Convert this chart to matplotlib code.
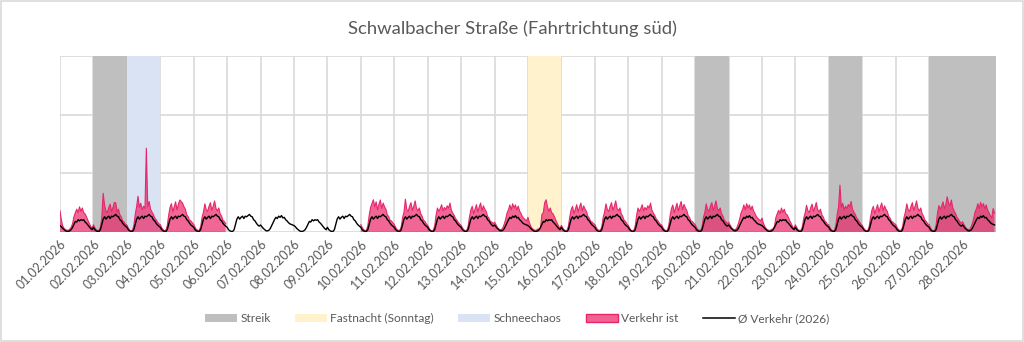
import numpy as np
import matplotlib.pyplot as plt
from matplotlib.patches import Patch, Rectangle
from matplotlib.lines import Line2D

plt.rcParams['font.family'] = ['Lato', 'DejaVu Sans']

# Tage im Februar 2026 (01.02. ist ein Sonntag)
tage = [f'{d:02d}.02.2026' for d in range(1, 29)]
tagtyp = ['So', 'Mo', 'Di', 'Mi', 'Do', 'Fr', 'Sa'] * 4

# Ereignis-Zeiträume (Tag-Index, Anzahl Tage)
streik = [(1, 1), (19, 1), (23, 1), (26, 2)]
fastnacht = [(14, 1)]
schneechaos = [(2, 1)]

# Ø Verkehr 2026, Stundenprofile je Tagtyp
avg_werktag = [0.08, 0.04, 0.02, 0.01, 0.01, 0.04, 0.13, 0.22, 0.26, 0.22, 0.25, 0.27,
               0.23, 0.27, 0.26, 0.28, 0.30, 0.27, 0.26, 0.21, 0.19, 0.15, 0.12, 0.10]
avg_samstag = [0.12, 0.09, 0.06, 0.04, 0.02, 0.02, 0.03, 0.06, 0.11, 0.16, 0.21, 0.25,
               0.23, 0.27, 0.25, 0.28, 0.24, 0.25, 0.21, 0.19, 0.16, 0.14, 0.13, 0.12]
avg_sonntag = [0.11, 0.09, 0.06, 0.04, 0.02, 0.01, 0.01, 0.02, 0.04, 0.08, 0.13, 0.18,
               0.17, 0.21, 0.19, 0.21, 0.20, 0.21, 0.17, 0.15, 0.12, 0.09, 0.06, 0.04]

# Verkehr ist, Stundenprofile
ist_werktag_a = [0.12, 0.07, 0.04, 0.02, 0.03, 0.10, 0.27, 0.40, 0.46, 0.33, 0.41, 0.49,
                 0.36, 0.45, 0.52, 0.38, 0.47, 0.41, 0.37, 0.28, 0.25, 0.19, 0.18, 0.15]
ist_werktag_b = [0.13, 0.08, 0.04, 0.03, 0.03, 0.09, 0.25, 0.34, 0.48, 0.38, 0.35, 0.44,
                 0.50, 0.37, 0.44, 0.53, 0.40, 0.36, 0.41, 0.31, 0.27, 0.20, 0.18, 0.14]
ist_werktag_c = [0.12, 0.07, 0.03, 0.02, 0.03, 0.11, 0.30, 0.43, 0.37, 0.42, 0.49, 0.38,
                 0.44, 0.40, 0.47, 0.43, 0.52, 0.39, 0.34, 0.30, 0.24, 0.21, 0.17, 0.14]
ist_samstag = [0.16, 0.12, 0.08, 0.05, 0.04, 0.04, 0.07, 0.13, 0.21, 0.31, 0.36, 0.44,
               0.36, 0.46, 0.39, 0.44, 0.36, 0.42, 0.34, 0.30, 0.25, 0.22, 0.20, 0.18]
ist_sonntag = [0.25, 0.16, 0.10, 0.06, 0.04, 0.03, 0.03, 0.05, 0.08, 0.14, 0.26, 0.33,
               0.39, 0.33, 0.43, 0.35, 0.41, 0.33, 0.31, 0.26, 0.20, 0.15, 0.10, 0.06]

# Tagesfaktor Verkehr ist (0 = keine Messwerte)
ist_faktor = [1.0, 0.95, 1.0, 1.05, 1.0, 0, 0, 0, 0, 1.05, 1.0, 0.95, 0.95, 1.05,
              1.0, 0.95, 1.0, 0.95, 1.0, 1.0, 1.05, 0.95, 0.95, 1.0, 0.95, 1.0, 1.05, 1.1]

# Einzelwerte (Tag-Index, Stunde, Wert)
ist_einzel = [(0, 0, 0.36), (0, 1, 0.20),
              (1, 7, 0.66), (1, 16, 0.50),
              (2, 8, 0.61), (2, 14, 1.43),
              (3, 15, 0.52), (9, 9, 0.55), (10, 8, 0.56),
              (14, 8, 0.05), (14, 9, 0.06), (14, 10, 0.30), (14, 12, 0.50), (14, 13, 0.55),
              (21, 8, 0.05), (21, 9, 0.10),
              (23, 8, 0.80), (26, 13, 0.60), (27, 22, 0.40), (27, 23, 0.32)]

avg_profile = {'Sa': avg_samstag, 'So': avg_sonntag}
ist_profile = {'Sa': ist_samstag, 'So': ist_sonntag}
ist_werktage = [ist_werktag_a, ist_werktag_b, ist_werktag_c]

avg = []
ist = []
for i, typ in enumerate(tagtyp):
    avg.extend(avg_profile.get(typ, avg_werktag))
    profil = np.array(ist_profile.get(typ, ist_werktage[i % 3])) * ist_faktor[i]
    if ist_faktor[i] == 0:
        profil[:] = np.nan
    ist.extend(profil)
avg = np.array(avg)
ist = np.array(ist)
for d, h, v in ist_einzel:
    ist[d * 24 + h] = v

x = np.arange(len(avg)) / 24

fig = plt.figure(figsize=(10.24, 3.42), dpi=100)
ax = fig.add_axes([0.0586, 0.3216, 0.914, 0.5146])

for farbe, bereiche in [('#BFBFBF', streik), ('#FFF2CC', fastnacht), ('#DAE3F3', schneechaos)]:
    for start, n in bereiche:
        ax.axvspan(start, start + n, color=farbe, lw=0, zorder=1)

ax.fill_between(x, 0, ist, facecolor='#E91E63', alpha=0.68, lw=0, zorder=2)
ax.plot(x, ist, color='#E8266E', lw=0.8, zorder=3)
ax.plot(x, avg, color='black', lw=1.0, zorder=4)

ax.set_xlim(0, 28)
ax.set_ylim(0, 3)
ax.set_xticks(np.arange(29))
ax.set_xticklabels(tage + [''], rotation=45, ha='right', rotation_mode='anchor',
                   fontsize=9, color='#595959')
ax.set_yticks([0, 1, 2, 3])
ax.set_yticklabels([])
ax.tick_params(length=0, pad=4)
ax.grid(True, color='#D9D9D9', lw=1.2, zorder=0)
ax.set_axisbelow(True)
for s in ax.spines.values():
    s.set_visible(False)

fig.text(0.5, 0.917, 'Schwalbacher Straße (Fahrtrichtung süd)', ha='center', va='center',
         fontsize=13.3, color='#595959')

handles = [Patch(facecolor='#BFBFBF'),
           Patch(facecolor='#FFF2CC'),
           Patch(facecolor='#DAE3F3'),
           Patch(facecolor='#F06292', edgecolor='#E8266E', lw=1),
           Line2D([], [], color='black', lw=1.1)]
labels = ['Streik', 'Fastnacht (Sonntag)', 'Schneechaos', 'Verkehr ist', 'Ø Verkehr (2026)']
fig.legend(handles, labels, loc='center', bbox_to_anchor=(0.505, 0.068), ncol=5,
           frameon=False, fontsize=8.6, labelcolor='#595959', handlelength=2.7,
           handleheight=0.7, handletextpad=0.3, columnspacing=2.0)

fig.add_artist(Rectangle((0.001, 0.002), 0.998, 0.995, transform=fig.transFigure,
                         fill=False, edgecolor='#D9D9D9', lw=1.2))

fig.savefig('out.png', dpi=100)
